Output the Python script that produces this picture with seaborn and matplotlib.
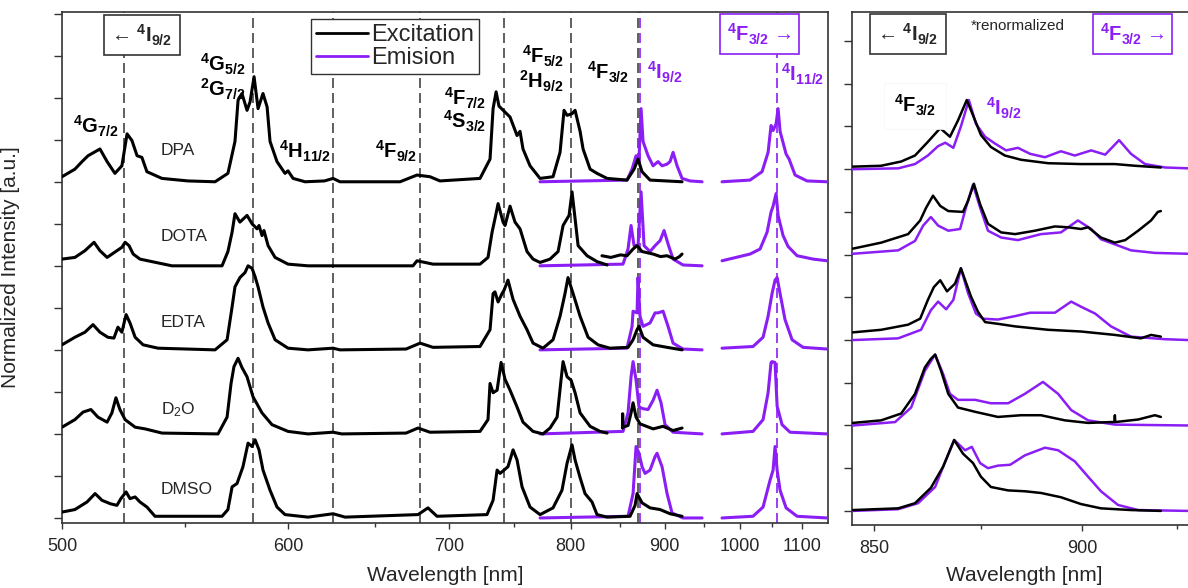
import numpy as np
import matplotlib
matplotlib.use('Agg')
import matplotlib.pyplot as plt
from matplotlib.lines import Line2D
from matplotlib.ticker import FixedLocator, NullFormatter
import seaborn as sns

# ---------------- data (wavelength nm, normalized intensity) ----------------
samples = ['DPA', 'DOTA', 'EDTA', 'D2O', 'DMSO']
sample_labels = ['DPA', 'DOTA', 'EDTA', r'D$_2$O', 'DMSO']
offsets = [4, 3, 2, 1, 0]

exc_lines = [524, 582, 625, 679, 742, 800, 869]
em_lines = [871.5, 1058]

x_major = [500, 600, 700, 800, 900, 1000, 1100]
x_minor = [550, 650, 750, 850, 950, 1050]
xr_major = [850, 900]
xr_minor = [875, 925]

# excitation spectra (left panel)
DPA_EXC = [(500, .06), (504.8, .15), (507.5, .24), (509.8, .31), (514.4, .39), (517.2, .24), (520.3, .10),
           (523.1, .19), (525.2, .57), (527.2, .49), (529.3, .31), (531.3, .29), (533.4, .12), (539.8, .04),
           (551.2, .01), (563.6, 0), (569.7, .10), (573.1, .48), (574.6, .97), (576.5, 1.05), (579.0, .85),
           (580.5, .95), (582.5, 1.25), (584.5, .87), (587.0, 1.05), (589.1, .89), (590.6, .48), (594.2, .24),
           (598.4, .10), (600.0, .13), (602.7, .04), (609.2, 0), (620, .01), (624.9, .04), (628.9, 0),
           (666.0, 0), (677.3, .08), (686.2, .06), (693.2, .01), (722.8, .04), (730.6, .27), (733.0, .87),
           (735.4, 1.07), (737.7, .90), (746.7, .77), (752.5, .55), (755.0, .60), (757.5, .39), (763.5, .19),
           (772.2, .04), (783.8, .06), (790.2, .35), (793.9, .85), (796.7, .79), (801.4, .81), (804.3, .85),
           (809.1, .60), (812.0, .39), (818.9, .15), (825.8, .10), (836.0, .04), (857.1, .02), (864.8, .15),
           (869.2, .27), (873.7, .12), (882.8, .02), (921.2, 0)]
DOTA_EXC = [(500, .08), (504.8, .10), (508.6, .18), (512.1, .28), (514.4, .18), (517.2, .10), (521.1, .18),
            (523.1, .22), (524.4, .28), (526.0, .24), (527.7, .14), (530.5, .08), (535.5, .05), (544.1, 0),
            (566.9, 0), (569.7, .17), (571.7, .40), (573.1, .62), (575.5, .52), (579.0, .60), (581.5, .50),
            (584.0, .44), (585.0, .48), (586.5, .36), (587.5, .42), (589.6, .24), (593.2, .10), (600.0, .02),
            (610.8, 0), (674.6, 0), (677.3, .06), (688.3, .02), (722.8, .02), (729.0, .10), (732.2, .40),
            (734.5, .56), (737.0, .74), (741.0, .52), (742.6, .48), (746.7, .71), (750.8, .52), (755.0, .44),
            (760.9, .17), (766.1, .08), (772.2, .04), (781.1, .08), (788.4, .17), (793.0, .48), (796.7, .56),
            (798.6, .60), (801.4, .88), (804.3, .56), (807.2, .24), (815.9, .12), (825.8, .05), (836.0, .01)]
DOTA_EXC2 = [(830.8, .12), (840, .10), (850, .13), (857.1, .12), (863.7, .20), (868.1, .24), (873.7, .17),
             (886.3, .14), (895, .11), (902.8, .12), (912.5, .08), (918, .11), (921.2, .14)]
EDTA_EXC = [(500, .06), (504.8, .15), (508.6, .21), (511.7, .30), (514.4, .21), (517.5, .15), (519.9, .14),
            (521.5, .27), (523.1, .21), (524.8, .42), (526.4, .32), (528.5, .15), (531.8, .06), (538.1, .02),
            (563.6, 0), (569.3, .12), (571.7, .51), (573.1, .75), (575.5, .86), (578.0, .92), (579.5, 1.00),
            (581.5, .97), (583.0, .87), (584.5, .75), (587.0, .51), (589.6, .32), (593.2, .12), (600.0, .02),
            (610.8, 0), (624.9, .02), (628.9, 0), (670, .01), (679.4, .08), (688.3, .03), (722.8, .04),
            (730.6, .24), (733.0, .67), (734.5, .69), (737.0, .57), (740.2, .67), (741.8, .71), (745.0, .83),
            (749.2, .60), (755.0, .40), (760.9, .24), (766.1, .08), (774.8, .02), (783.8, .12), (790.2, .40),
            (794.8, .67), (797.6, .86), (802.4, .67), (809.1, .40), (816.9, .15), (826.8, .06), (839.1, .02),
            (858.2, .03), (863.7, .12), (868.1, .24), (870.3, .28), (874.8, .15), (886.3, .06), (902.8, .03),
            (921.2, 0)]
D2O_EXC = [(500, .08), (504.8, .17), (507.9, .26), (510.9, .29), (513.6, .20), (517.2, .14), (519.1, .25),
           (520.7, .43), (522.3, .29), (524.4, .17), (528.5, .08), (532.6, .06), (539.8, .01), (565.0, 0),
           (569.3, .20), (571.2, .60), (572.6, .80), (574.6, .90), (576.5, .79), (579.0, .68), (582.0, .44),
           (586.5, .25), (591.6, .11), (600.0, .03), (610.8, 0), (624.9, .02), (630, 0), (670, .01),
           (678.0, .07), (686.2, .02), (722.8, .03), (729.0, .17), (730.6, .60), (733.0, .49), (736.2, .52),
           (739.4, .85), (742.6, .65), (746.7, .52), (752.5, .32), (757.5, .14), (766.1, .03), (774.8, 0),
           (781.1, .07), (787.5, .20), (791.1, .64), (793.0, .86), (796.7, .68), (800.5, .64), (804.3, .49),
           (809.1, .25), (818.9, .09), (828.8, .03), (836.0, .01)]
D2O_EXC2 = [(852.2, .07), (852.4, .24), (852.6, .08), (858.2, .10), (861.5, .25), (863.7, .37), (867.0, .20),
            (871.4, .12), (886.3, .06), (898.0, .09), (910.1, .04), (921.2, .07)]
DMSO_EXC = [(500, .07), (504.8, .10), (509.4, .19), (512.5, .29), (515.2, .21), (518.4, .17), (521.1, .15),
            (522.7, .23), (524.8, .31), (526.4, .23), (528.5, .25), (530.5, .19), (533.4, .13), (536.8, .02),
            (566.9, .02), (569.7, .10), (571.7, .37), (574.1, .41), (577.0, .61), (579.5, .89), (581.5, .85),
            (583.0, .93), (585.0, .81), (587.0, .57), (590.6, .33), (594.2, .13), (598.4, .04), (610.8, .01),
            (624.9, .05), (631.9, .01), (678.0, .04), (684.8, .12), (691.1, .02), (728.2, .04), (733.0, .21),
            (736.2, .57), (738.6, .53), (741.8, .57), (745.0, .61), (749.2, .81), (752.5, .69), (756.7, .37),
            (763.5, .13), (772.2, .04), (783.8, .12), (792.0, .33), (796.7, .65), (801.4, .87), (804.3, .69),
            (809.1, .48), (813.9, .29), (820.8, .19), (825.8, .04), (836.0, .01), (860.4, .02), (865.9, .15),
            (868.1, .29), (873.7, .18), (882.8, .12), (894.5, .10), (906.4, .05), (921.2, .02)]

# emission spectra, 4I9/2 region (left panel)
DPA_EM = [(772.2, 0), (857.1, .02), (862.6, .15), (867.0, .31), (870.3, .27), (872.6, .87), (874.8, .48),
          (880.5, .31), (886.3, .19), (892.1, .24), (896.8, .19), (902.8, .21), (906.4, .24), (910.1, .35),
          (915.0, .19), (921.2, .04), (931.3, .01), (946.9, 0)]
DOTA_EM = [(772.2, 0), (852.8, .02), (858.2, .20), (861.5, .48), (864.8, .24), (869.2, .24), (872.6, .88),
           (876.0, .24), (882.8, .17), (888.6, .24), (894.5, .30), (899.2, .42), (904.0, .26), (910.1, .08),
           (922.4, .01), (946.9, 0)]
EDTA_EM = [(772.2, 0), (857.1, .02), (862.6, .28), (863.7, .46), (868.1, .44), (869.2, .86), (871.4, .40),
           (874.8, .28), (882.8, .32), (888.6, .44), (892.1, .44), (898.0, .46), (904.0, .28), (910.1, .08),
           (922.4, .01), (946.9, 0)]
D2O_EM = [(772.2, 0), (852.8, .03), (858.2, .25), (861.5, .68), (863.7, .86), (867.0, .64), (870.3, .32),
          (874.8, .30), (880.5, .29), (886.3, .40), (890.9, .52), (895.6, .37), (900.4, .11), (910.1, .02),
          (946.9, 0)]
DMSO_EM = [(772.2, 0), (858.2, .02), (863.7, .29), (867.0, .85), (870.3, .77), (873.7, .61), (877.1, .53),
           (882.8, .57), (888.6, .73), (890.9, .77), (896.8, .61), (902.8, .29), (908.8, .06), (922.4, 0),
           (946.9, 0)]

# emission spectra, 4I11/2 region (left panel)
DPA_EM2 = [(974.1, 0), (1014.9, .02), (1033.5, .12), (1043.1, .35), (1047.9, .67), (1051.2, .61),
           (1056.1, .69), (1059.4, .87), (1062.7, .60), (1072.8, .33), (1077.9, .27), (1088.3, .08),
           (1109.6, .01), (1147.2, 0)]
DOTA_EM2 = [(974.1, .06), (1014.9, .14), (1030.4, .20), (1041.5, .40), (1047.9, .64), (1051.2, .71),
            (1056.1, .86), (1059.4, .60), (1067.7, .36), (1076.2, .23), (1091.8, .12), (1120.7, .08),
            (1147.2, .06)]
EDTA_EM2 = [(974.1, .02), (1019.5, .04), (1035.1, .15), (1043.1, .40), (1049.5, .67), (1054.4, .83),
            (1057.8, .86), (1062.7, .67), (1071.0, .36), (1083.1, .12), (1102.4, .03), (1147.2, .01)]
D2O_EM2 = [(974.1, 0), (1019.5, .03), (1035.1, .17), (1043.1, .49), (1047.9, .85), (1049.5, .86),
           (1054.4, .85), (1057.8, .33), (1066.0, .11), (1079.6, .02), (1147.2, 0)]
DMSO_EM2 = [(974.1, 0), (1019.5, .02), (1035.1, .13), (1046.3, .45), (1051.2, .57), (1054.4, .85),
            (1057.8, .57), (1062.7, .33), (1072.8, .12), (1091.8, .02), (1147.2, 0)]

# right panel: renormalized 4F3/2 <-> 4I9/2 region
DPA_R_EXC = [(845.2, .03), (851.6, .04), (856.2, .09), (859.4, .16), (862.4, .32), (865.3, .48), (867.6, .38),
             (869.5, .57), (871.6, .81), (873.6, .57), (875.0, .40), (877.4, .26), (880.8, .16), (884.8, .11),
             (891.5, .07), (899.8, .06), (908.5, .06), (913.8, .04), (920.6, .02)]
DPA_R_EM = [(845.2, 0), (855.5, .01), (859.4, .06), (862.4, .16), (864.8, .27), (866.5, .31), (868.4, .25),
            (870.2, .50), (872.1, .81), (873.8, .53), (876.0, .38), (878.4, .30), (881.1, .22), (884.0, .25),
            (887.0, .18), (890.7, .14), (894.7, .21), (898.2, .16), (902.4, .22), (906.0, .17), (909.6, .34),
            (912.7, .18), (916.4, .06), (921.7, .02), (927.9, .01)]
DOTA_R_EXC = [(845.2, .07), (851.6, .14), (857.8, .24), (860.6, .40), (862.0, .55), (863.6, .69), (865.3, .57),
              (867.2, .51), (870.7, .50), (871.9, .63), (873.3, .83), (874.8, .59), (876.7, .36), (879.9, .26),
              (883.3, .24), (888.2, .28), (893.2, .33), (896.5, .32), (899.8, .30), (901.6, .32), (904.9, .20),
              (908.5, .14), (911.2, .17), (914.6, .28), (918.0, .40), (919.8, .50), (920.6, .51)]
DOTA_R_EM = [(845.2, .01), (855.5, .05), (859.4, .16), (861.3, .34), (863.1, .44), (864.8, .34), (867.2, .28),
             (870.0, .30), (871.4, .55), (873.1, .82), (874.8, .55), (876.7, .28), (879.9, .20), (884.0, .17),
             (889.7, .24), (894.7, .26), (899.0, .40), (902.4, .30), (904.9, .18), (908.5, .12), (912.7, .05),
             (919.0, .02), (927.9, .01)]
EDTA_R_EXC = [(845.2, .09), (851.6, .12), (857.8, .18), (860.6, .25), (862.4, .47), (863.8, .62), (865.3, .70),
              (866.9, .57), (868.8, .66), (870.2, .84), (872.6, .51), (874.3, .33), (876.0, .21), (879.1, .19),
              (883.3, .16), (891.5, .12), (899.8, .10), (908.5, .06), (915.3, .02), (918.0, .06), (920.6, .04)]
EDTA_R_EM = [(845.2, 0), (855.5, .02), (860.8, .12), (863.1, .35), (864.8, .45), (866.7, .36), (868.4, .47),
             (870.2, .84), (871.9, .55), (873.8, .31), (875.5, .25), (879.1, .24), (883.3, .28), (887.0, .32),
             (893.2, .32), (897.3, .45), (899.8, .39), (903.4, .31), (907.5, .16), (912.7, .04), (921.7, .01),
             (927.9, 0)]
D2O_R_EXC = [(845.2, .03), (851.6, .06), (856.2, .14), (859.4, .37), (861.7, .68), (863.1, .78), (864.1, .83),
             (865.5, .64), (867.2, .37), (869.5, .21), (873.6, .16), (879.1, .10), (884.8, .12), (889.7, .12),
             (895.7, .06), (901.6, .03), (907.5, .04), (908.4, .04), (908.5, .12), (908.6, .04), (914.6, .07),
             (919.0, .12), (920.6, .10)]
D2O_R_EM = [(845.2, 0), (854.8, .04), (858.5, .21), (861.7, .64), (864.1, .83), (866.0, .60), (867.6, .37),
            (869.5, .30), (873.6, .30), (877.4, .26), (881.6, .26), (885.7, .37), (890.2, .51), (894.0, .37),
            (897.3, .18), (901.6, .06), (908.5, .01), (927.9, 0)]
DMSO_R_EXC = [(845.2, .01), (855.5, .03), (859.4, .09), (863.1, .27), (866.0, .52), (868.6, .83), (870.7, .67),
              (873.1, .56), (875.0, .40), (877.4, .28), (881.6, .24), (885.7, .23), (889.7, .21), (894.7, .16),
              (899.8, .08), (904.9, .03), (912.7, .01), (920.6, 0)]
DMSO_R_EM = [(845.2, 0), (855.5, .02), (860.1, .09), (864.1, .28), (866.5, .58), (868.6, .83), (871.2, .71),
             (872.8, .75), (874.8, .56), (876.7, .50), (879.1, .53), (882.1, .54), (885.7, .65), (890.7, .74),
             (894.0, .71), (898.2, .58), (901.6, .40), (904.9, .23), (909.3, .07), (914.6, .01), (927.9, 0)]

left_exc = [[DPA_EXC], [DOTA_EXC, DOTA_EXC2], [EDTA_EXC], [D2O_EXC, D2O_EXC2], [DMSO_EXC]]
left_em = [[DPA_EM, DPA_EM2], [DOTA_EM, DOTA_EM2], [EDTA_EM, EDTA_EM2], [D2O_EM, D2O_EM2], [DMSO_EM, DMSO_EM2]]
right_exc = [DPA_R_EXC, DOTA_R_EXC, EDTA_R_EXC, D2O_R_EXC, DMSO_R_EXC]
right_em = [DPA_R_EM, DOTA_R_EM, EDTA_R_EM, D2O_R_EM, DMSO_R_EM]

PURPLE = '#8b1ef5'
DARK = '#333333'


def energy(x):
    # axis is linear in photon energy (1/wavelength)
    x = np.asarray(x, dtype=float)
    with np.errstate(divide='ignore', invalid='ignore'):
        return -1e4 / x


def draw(ax, pts, off, color, lw):
    pts = np.asarray(pts, dtype=float)
    sns.lineplot(x=pts[:, 0], y=pts[:, 1] + off, ax=ax, color=color, linewidth=lw,
                 sort=False, estimator=None, legend=False, zorder=3,
                 solid_joinstyle='round', solid_capstyle='round')


def style_axis(ax, major, minor, yticks):
    ax.xaxis.set_major_locator(FixedLocator(major))
    ax.xaxis.set_minor_locator(FixedLocator(minor))
    ax.xaxis.set_minor_formatter(NullFormatter())
    ax.set_xticklabels([str(m) for m in major])
    ax.yaxis.set_major_locator(FixedLocator(yticks))
    ax.set_yticklabels([])
    ax.tick_params(axis='x', which='major', direction='out', length=4.5, width=1, labelsize=13, pad=6,
                   color=DARK)
    ax.tick_params(axis='x', which='minor', direction='out', length=3, width=1, color=DARK)
    ax.tick_params(axis='y', direction='out', length=6, width=1, color=DARK)
    for s in ax.spines.values():
        s.set_linewidth(1.2)
        s.set_color(DARK)


def tlabel(ax, x, y, s, color='black', ha='center', size=14.5, **kw):
    ax.text(x, y, r'$\mathbf{' + s + '}$', transform=ax.transAxes, ha=ha, va='center',
            color=color, fontsize=size, **kw)


sns.set_style('ticks')
plt.rcParams['font.family'] = ['Liberation Sans', 'DejaVu Sans']
plt.rcParams['mathtext.fontset'] = 'custom'
plt.rcParams['mathtext.rm'] = 'Liberation Sans'
plt.rcParams['mathtext.it'] = 'Liberation Sans:italic'
plt.rcParams['mathtext.bf'] = 'Liberation Sans:bold'

fig = plt.figure(figsize=(11.88, 5.88), dpi=100)
ax = fig.add_axes([0.05219, 0.11054, 0.64478, 0.86905])
axr = fig.add_axes([0.71717, 0.10714, 0.28283, 0.87245])

for a, lims, ylims in ((ax, (500, 1149), (-0.06, 6.02)), (axr, (845.0, 927.9), (-0.165, 5.84))):
    a.set_xlim(*lims)
    a.set_ylim(*ylims)
    a.set_xscale('function', functions=(energy, energy))
    a.set_xlim(*lims)
    a.set_autoscale_on(False)

# ---------------- left panel ----------------
for w in exc_lines:
    ax.axvline(w, color='#444444', lw=1.2, ls=(0, (6, 3)), zorder=1)
for w in em_lines:
    ax.axvline(w, color=PURPLE, lw=1.2, ls=(0, (6, 3)), zorder=1)

for off, exc, em in zip(offsets, left_exc, left_em):
    for seg in em:
        draw(ax, seg, off, PURPLE, 2.2)
    for seg in exc:
        draw(ax, seg, off, 'black', 2.2)

ax.set_xlim(500, 1149)
ax.set_ylim(-0.06, 6.02)
style_axis(ax, x_major, x_minor, np.arange(0, 6.01, 0.5))
ax.set_xlabel('Wavelength [nm]', fontsize=15)
ax.xaxis.set_label_coords(0.5, -0.084)
ax.set_ylabel('Normalized Intensity [a.u.]', fontsize=15)
ax.yaxis.set_label_coords(-0.055, 0.5)

for lab, fy in zip(sample_labels, [0.728, 0.560, 0.393, 0.221, 0.065]):
    ax.text(0.129, fy, lab, transform=ax.transAxes, ha='left', va='center', fontsize=12.5)

ax.text(0.1044, 0.955, '← ' + r'$\mathbf{^{4}I_{9/2}}$', transform=ax.transAxes, ha='center', va='center',
        fontsize=14.5, fontweight='bold',
        bbox=dict(boxstyle='square,pad=0.35', fc='white', ec=DARK, lw=1.2))
ax.text(0.911, 0.957, r'$\mathbf{^{4}F_{3/2}}$' + ' →', transform=ax.transAxes, ha='center', va='center',
        fontsize=14.5, fontweight='bold', color=PURPLE,
        bbox=dict(boxstyle='square,pad=0.35', fc='white', ec=PURPLE, lw=1.2))

tlabel(ax, 0.044, 0.777, '^{4}G_{7/2}')
tlabel(ax, 0.240, 0.898, '^{4}G_{5/2}', ha='right')
tlabel(ax, 0.240, 0.849, '^{2}G_{7/2}', ha='right')
tlabel(ax, 0.352, 0.728, '^{4}H_{11/2}', ha='right')
tlabel(ax, 0.4635, 0.728, '^{4}F_{9/2}', ha='right')
tlabel(ax, 0.5535, 0.830, '^{4}F_{7/2}', ha='right')
tlabel(ax, 0.5535, 0.785, '^{4}S_{3/2}', ha='right')
tlabel(ax, 0.655, 0.914, '^{4}F_{5/2}', ha='right')
tlabel(ax, 0.655, 0.865, '^{2}H_{9/2}', ha='right')
tlabel(ax, 0.740, 0.881, '^{4}F_{3/2}', ha='right')
tlabel(ax, 0.764, 0.881, '^{4}I_{9/2}', color=PURPLE, ha='left')
tlabel(ax, 0.9386, 0.877, '^{4}I_{11/2}', color=PURPLE, ha='left')

handles = [Line2D([], [], color='black', lw=2), Line2D([], [], color=PURPLE, lw=2)]
leg = ax.legend(handles, ['Excitation', 'Emision'], loc='upper left', bbox_to_anchor=(0.325, 0.986),
                fontsize=17, frameon=True, fancybox=False, framealpha=1, edgecolor=DARK,
                borderpad=0.2, handlelength=2.2, handletextpad=0.15, labelspacing=0.05, borderaxespad=0)
leg.get_frame().set_linewidth(1.0)

# ---------------- right panel ----------------
for off, exc, em in zip(offsets, right_exc, right_em):
    draw(axr, em, off, PURPLE, 1.8)
    draw(axr, exc, off, 'black', 1.8)

axr.set_xlim(845.0, 927.9)
axr.set_ylim(-0.165, 5.84)
style_axis(axr, xr_major, xr_minor, np.arange(0, 5.51, 0.5))
axr.spines['right'].set_visible(False)
axr.set_xlabel('Wavelength [nm]', fontsize=15)
axr.xaxis.set_label_coords(0.512, -0.08)
axr.set_ylabel('')

axr.text(0.1667, 0.957, '← ' + r'$\mathbf{^{4}I_{9/2}}$', transform=axr.transAxes, ha='center', va='center',
         fontsize=14.5, fontweight='bold',
         bbox=dict(boxstyle='square,pad=0.35', fc='white', ec=DARK, lw=1.2))
axr.text(0.836, 0.957, r'$\mathbf{^{4}F_{3/2}}$' + ' →', transform=axr.transAxes, ha='center', va='center',
         fontsize=14.5, fontweight='bold', color=PURPLE,
         bbox=dict(boxstyle='square,pad=0.35', fc='white', ec=PURPLE, lw=1.2))
axr.text(0.494, 0.973, '*renormalized', transform=axr.transAxes, ha='center', va='center', fontsize=11)
tlabel(axr, 0.1875, 0.817, '^{4}F_{3/2}',
       bbox=dict(boxstyle='square,pad=0.5', fc='white', ec='#f6f6f6', lw=0.5))
tlabel(axr, 0.452, 0.813, '^{4}I_{9/2}', color=PURPLE)

fig.savefig('out.png', dpi=100)
